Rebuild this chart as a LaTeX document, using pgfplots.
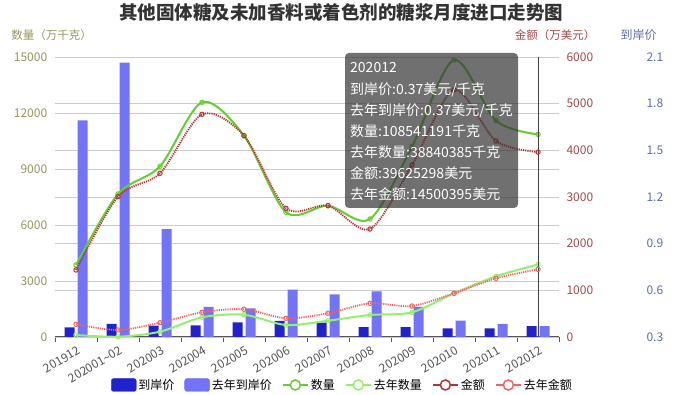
\documentclass[border=0pt]{standalone}
\usepackage{fontspec}
\setmainfont{Noto Sans CJK SC}
\usepackage{pgfplots}
\pgfplotsset{compat=1.18}
\usepackage{pgfplotstable}

\definecolor{barDark}{RGB}{34,34,204}
\definecolor{barLight}{RGB}{115,115,245}
\definecolor{qGreen}{RGB}{102,204,51}
\definecolor{qLight}{RGB}{150,238,110}
\definecolor{aRed}{RGB}{180,50,50}
\definecolor{aLight}{RGB}{238,100,100}
\definecolor{leftC}{RGB}{150,150,95}
\definecolor{rightC}{RGB}{160,75,75}
\definecolor{priceC}{RGB}{95,110,170}
\definecolor{gridC}{RGB}{204,204,204}
\definecolor{xlabC}{RGB}{85,85,85}
\definecolor{titleC}{RGB}{51,51,51}

\pgfplotstableread{
x q qp a ap p pp
0 3857 107 1436 272 0.362 1.693
1 7661 16 3007 150 0.384 2.063
2 9145 284 3508 306 0.373 0.994
3 12573 1055 4772 529 0.375 0.493
4 10784 1190 4314 594 0.394 0.484
5 6680 643 2758 401 0.403 0.604
6 7034 873 2814 508 0.392 0.574
7 6321 1179 2314 722 0.364 0.594
8 10200 1323 3686 664 0.364 0.493
9 14839 2341 5293 936 0.356 0.405
10 11588 3250 4200 1258 0.356 0.384
11 10854 3884 3962.5 1450 0.370 0.370
}\data

\pgfplotsset{
  base/.style={scale only axis, width=504pt, height=280pt,
    at={(55pt,58pt)}, anchor=south west, xmin=-0.5, xmax=11.5,
    scaled y ticks=false,
    tick label style={font=\fontsize{12}{14}\selectfont},
    /pgf/number format/assume math mode=true,
    /pgf/number format/1000 sep={}},
  ln/.style={smooth, tension=0.5, line width=2pt, mark=o, mark size=2.2pt,
    mark options={solid, fill=white, line width=1pt}},
  dl/.style={smooth, tension=0.5, line width=1.8pt, dash pattern=on 1.2pt off 1pt,
    mark=o, mark size=2.2pt, mark options={solid, fill=white, line width=1pt}},
}

\begin{document}
\begin{tikzpicture}
\path[use as bounding box] (0,0) rectangle (674pt,395pt);

% quantity axis: grid, left labels, x axis
\begin{axis}[base, ymin=0, ymax=15000, ytick={0,3000,...,15000},
  yticklabels={0,3000,6000,9000,12000,15000},
  ymajorgrids, grid style={gridC, line width=0.8pt},
  axis x line*=bottom, axis y line*=left,
  y axis line style={draw=none}, ytick style={draw=none},
  x axis line style={xlabC, line width=1pt, -},
  yticklabel style={text=leftC},
  xtick={0,...,11}, major x tick style={draw=none},
  minor xtick={-0.5,0.5,...,11.5}, minor tick length=5pt,
  minor x tick style={xlabC, line width=1pt}, tick align=outside,
  xticklabels={201912,202001\textasciitilde02,202003,202004,202005,202006,202007,202008,202009,202010,202011,202012},
  xticklabel style={rotate=30, anchor=north east, text=xlabC, inner sep=1pt, yshift=-3pt},
]
\addplot[draw=none] coordinates {(0,0)};
\end{axis}

% amount axis: grid, right labels
\begin{axis}[base, ymin=0, ymax=6000, ytick={0,1000,...,6000},
  yticklabels={0,1000,2000,3000,4000,5000,6000},
  ymajorgrids, grid style={gridC, line width=0.8pt},
  axis x line=none, axis y line*=right,
  y axis line style={draw=none}, ytick style={draw=none},
  yticklabel style={text=rightC, xshift=4pt},
]
\addplot[draw=none] coordinates {(0,0)};
\end{axis}

% price axis: bars
\begin{axis}[base, ymin=0.3, ymax=2.1, ytick={0.3,0.6,0.9,1.2,1.5,1.8,2.1},
  yticklabels={0.3,0.6,0.9,1.2,1.5,1.8,2.1},
  axis x line=none, axis y line*=right,
  y axis line style={draw=none}, ytick style={draw=none},
  yticklabel style={text=priceC, xshift=84pt},
]
\addplot[ybar, bar width=10pt, bar shift=-6.5pt, fill=barDark, draw=none] table[x=x,y=p]{\data};
\addplot[ybar, bar width=10pt, bar shift=6.5pt, fill=barLight, draw=none] table[x=x,y=pp]{\data};
\end{axis}

% quantity lines
\begin{axis}[base, ymin=0, ymax=15000, hide axis]
\addplot[ln, qGreen] table[x=x,y=q]{\data};
\addplot[ln, qLight] table[x=x,y=qp]{\data};
\end{axis}

% amount lines + legend
\begin{axis}[base, ymin=0, ymax=6000, hide axis,
  legend style={at={(0.5704,-0.1714)}, anchor=center, draw=none, fill=none,
    legend columns=6, font=\fontsize{12}{14}\selectfont,
    /tikz/every even column/.append style={column sep=8pt},
    nodes={inner sep=2pt}},
]
\draw[black!75, line width=0.9pt] (axis cs:11,0) -- (axis cs:11,6000);
\addplot[dl, aRed, forget plot] table[x=x,y=a]{\data};
\addplot[dl, aLight, forget plot] table[x=x,y=ap]{\data};
\addlegendimage{legend image code/.code={\fill[barDark, rounded corners=2.5pt] (0pt,-6.5pt) rectangle (25pt,6.5pt);}}
\addlegendentry{到岸价}
\addlegendimage{legend image code/.code={\fill[barLight, rounded corners=2.5pt] (0pt,-6.5pt) rectangle (25pt,6.5pt);}}
\addlegendentry{去年到岸价}
\addlegendimage{legend image code/.code={\draw[qGreen, line width=2pt] (0pt,0pt) -- (25pt,0pt); \draw[qGreen, line width=1.5pt, fill=white] (12.5pt,0pt) circle (5pt);}}
\addlegendentry{数量}
\addlegendimage{legend image code/.code={\draw[qLight, line width=2pt] (0pt,0pt) -- (25pt,0pt); \draw[qLight, line width=1.5pt, fill=white] (12.5pt,0pt) circle (5pt);}}
\addlegendentry{去年数量}
\addlegendimage{legend image code/.code={\draw[aRed, line width=2pt] (0pt,0pt) -- (25pt,0pt); \draw[aRed, line width=1.5pt, fill=white] (12.5pt,0pt) circle (5pt);}}
\addlegendentry{金额}
\addlegendimage{legend image code/.code={\draw[aLight, line width=2pt] (0pt,0pt) -- (25pt,0pt); \draw[aLight, line width=1.5pt, fill=white] (12.5pt,0pt) circle (5pt);}}
\addlegendentry{去年金额}
\end{axis}

% axis names and title
\node[text=leftC, font=\fontsize{11.5}{13}\selectfont] at (51.5pt,360pt) {数量（万千克）};
\node[text=rightC, font=\fontsize{11.5}{13}\selectfont] at (555pt,360pt) {金额（万美元）};
\node[text=priceC, font=\fontsize{12}{14}\selectfont] at (638.5pt,360pt) {到岸价};
\node[text=titleC, font=\fontsize{18.5}{20}\selectfont\bfseries] at (341pt,383pt) {其他固体糖及未加香料或着色剂的糖浆月度进口走势图};

% tooltip
\fill[fill=black!80, fill opacity=0.7, rounded corners=4pt] (345pt,187pt) rectangle (518pt,342pt);
\begin{scope}[every node/.style={anchor=west, text=white, font=\fontsize{14}{16}\selectfont, inner sep=0pt}]
\node at (350pt,327pt) {202012};
\node at (350pt,305.5pt) {到岸价:0.37美元/千克};
\node at (350pt,284.5pt) {去年到岸价:0.37美元/千克};
\node at (350pt,263.5pt) {数量:108541191千克};
\node at (350pt,242.5pt) {去年数量:38840385千克};
\node at (350pt,221.5pt) {金额:39625298美元};
\node at (350pt,200.5pt) {去年金额:14500395美元};
\end{scope}
\end{tikzpicture}
\end{document}
